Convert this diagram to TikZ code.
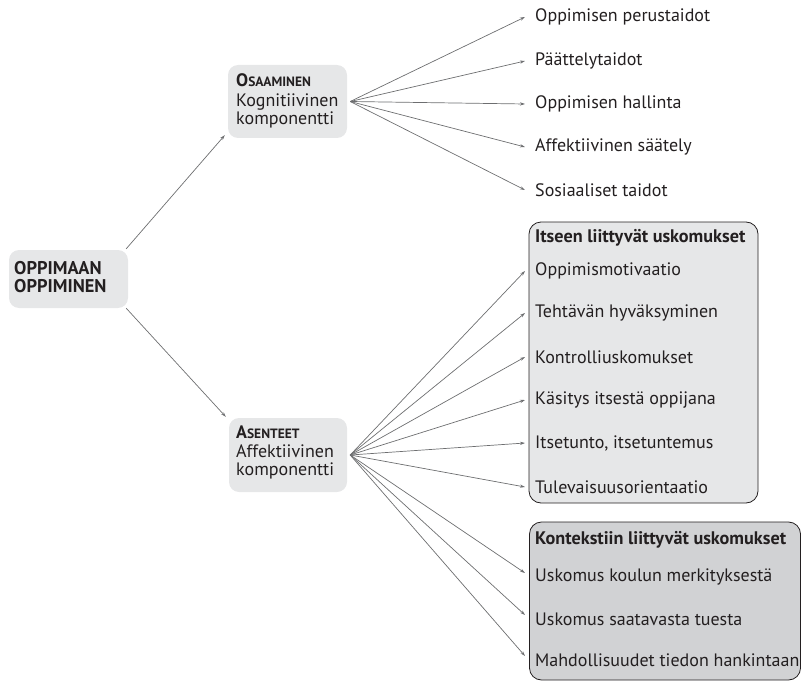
\documentclass[tikz,border=0pt]{standalone}
\usepackage{fontspec}
\setmainfont{PT Sans}
\usetikzlibrary{arrows.meta}
\definecolor{txt}{HTML}{231F20}
\definecolor{boxa}{HTML}{E6E7E8}
\definecolor{boxb}{HTML}{D1D2D4}
\definecolor{arr}{HTML}{6D6E70}
\tikzset{
  x=1pt,y=-1pt,
  every node/.style={text=txt},
  base/.style={font=\fontsize{18}{18}\selectfont},
  gbox/.style={base,fill=boxa,rounded corners=10pt,align=left,inner sep=0pt},
  item/.style={base,anchor=west,inner sep=0pt},
  boxtxt/.style={anchor=north west,inner sep=0pt,align=left,font=\fontsize{18}{18}\selectfont},
  ttl/.style={base,anchor=west,inner sep=0pt,font=\fontsize{18.2}{18}\selectfont\bfseries},
  frame1/.style={draw=txt,line width=0.8pt,fill=boxa,rounded corners=12pt,inner sep=0pt},
  frame2/.style={draw=txt,line width=0.8pt,fill=boxb,rounded corners=12pt,inner sep=0pt},
  conn/.style={draw=arr,line width=0.7pt,-{Stealth[length=5pt,width=3.2pt]}},
}
\newcommand{\scap}[2]{\textbf{#1{\fontsize{13.5}{14}\selectfont #2}}}
\begin{document}
\begin{tikzpicture}
\useasboundingbox (0,0) rectangle (803,682);
% main boxes
\node[gbox,minimum width=119,minimum height=58] (root) at (68.5,279) {};
\node[base,anchor=west,align=left,inner sep=0pt,font=\fontsize{18.4}{17.5}\selectfont\bfseries] (roott) at (14,277) {OPPIMAAN\\OPPIMINEN};
\node[gbox,minimum width=119,minimum height=73] (os) at (287.5,101.5) {};
\node[boxtxt] (ost) at (236,73) {\scap{O}{SAAMINEN}\\[2pt]Kognitiivinen\\komponentti};
\node[gbox,minimum width=118,minimum height=74] (as) at (288,455) {};
\node[boxtxt] (ast) at (236,426) {\scap{A}{SENTEET}\\[1pt]Affektiivinen\\komponentti};
% root arrows
\draw[conn] ([shift={(-2,-1)}]root.north east) -- ([shift={(-3,-3)}]os.south west);
\draw[conn] ([shift={(-2,0)}]root.south east) -- ([shift={(-3,-1)}]as.north west);
% fan 1
\coordinate (o1) at ([xshift=3]os.east);
\node[item] (a1) at (535,17) {Oppimisen perustaidot};
\node[item] (a2) at (535,61) {Päättelytaidot};
\node[item] (a3) at (535,104) {Oppimisen hallinta};
\node[item] (a4) at (535,147) {Affektiivinen säätely};
\node[item] (a5) at (535,190) {Sosiaaliset taidot};
\foreach \n in {a1,a2,a3,a4,a5} \draw[conn] (o1) -- ([xshift=-10]\n.west);
% frames
\node[frame1,minimum width=229,minimum height=281] (f1) at (643.5,362.5) {};
\node[frame2,minimum width=271,minimum height=158] (f2) at (665,601) {};
\node[ttl] (t1) at (535,238) {Itseen liittyvät uskomukset};
\node[item] (b1) at (535,271) {Oppimismotivaatio};
\node[item] (b2) at (535,313) {Tehtävän hyväksyminen};
\node[item] (b3) at (535,357) {Kontrolliuskomukset};
\node[item] (b4) at (535,400) {Käsitys itsestä oppijana};
\node[item] (b5) at (535,443) {Itsetunto, itsetuntemus};
\node[item] (b6) at (535,487) {Tulevaisuusorientaatio};
\node[ttl] (t2) at (535,540) {Kontekstiin liittyvät uskomukset};
\node[item] (c1) at (535,577) {Uskomus koulun merkityksestä};
\node[item] (c2) at (535,619) {Uskomus saatavasta tuesta};
\node[item] (c3) at (535,660) {Mahdollisuudet tiedon hankintaan};
\coordinate (o2) at ([xshift=3]as.east);
\foreach \n in {b1,b2,b3,b4,b5,b6} \draw[conn] (o2) -- ([xshift=-10]\n.west);
\foreach \n in {c1,c2,c3} \draw[conn] (o2) -- ([shift={(-10,-4)}]\n.west);
\end{tikzpicture}
\end{document}
